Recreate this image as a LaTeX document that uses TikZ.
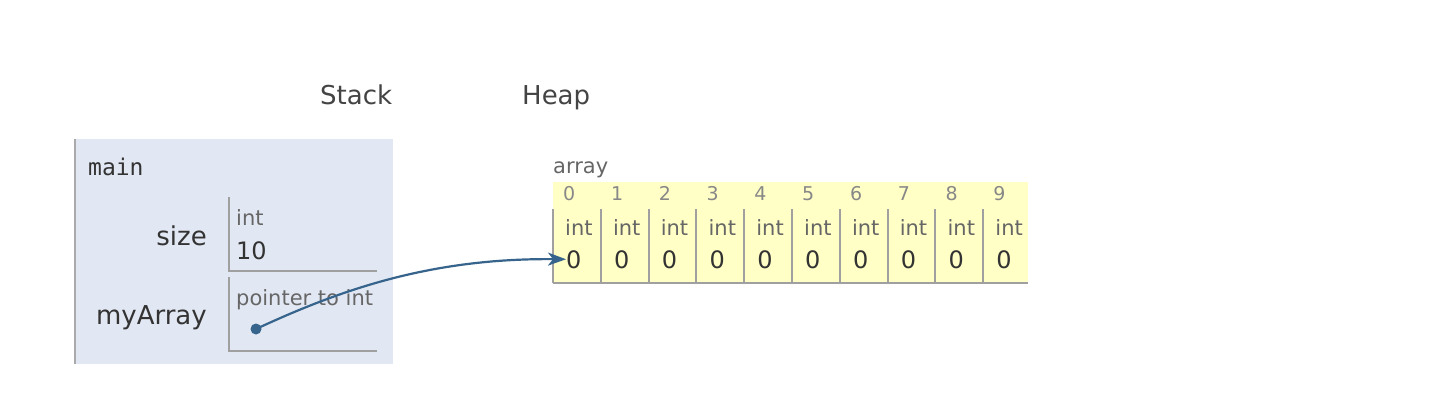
\documentclass[tikz,border=0pt]{standalone}
\usepackage{fontspec}
\setmainfont{DejaVu Sans}
\setmonofont{DejaVu Sans Mono}
\usetikzlibrary{arrows.meta}
\definecolor{stackbg}{RGB}{226,232,243}
\definecolor{framebd}{RGB}{170,170,170}
\definecolor{valbd}{RGB}{160,160,160}
\definecolor{heapbg}{RGB}{255,255,198}
\definecolor{txt}{RGB}{51,51,51}
\definecolor{hdr}{RGB}{68,68,68}
\definecolor{typ}{RGB}{102,102,102}
\definecolor{idxc}{RGB}{136,136,136}
\definecolor{ptrc}{RGB}{55,100,140}
\tikzset{
  lbl/.style={inner sep=0pt, anchor=base west, text=txt},
  hdrlbl/.style={inner sep=0pt, anchor=base west, text=hdr, font=\fontsize{26}{30}\selectfont},
  varname/.style={inner sep=0pt, anchor=base east, text=txt, font=\fontsize{26}{30}\selectfont},
  typelbl/.style={inner sep=0pt, anchor=base west, text=typ, font=\fontsize{21}{25}\selectfont},
  vallbl/.style={inner sep=0pt, anchor=base west, text=txt, font=\fontsize{24}{28}\selectfont},
  idxlbl/.style={inner sep=0pt, anchor=base west, text=idxc, font=\fontsize{19}{23}\selectfont},
  boxline/.style={draw=valbd, line width=2pt},
  ptrdot/.style={circle, fill=ptrc, inner sep=0pt, minimum size=11pt},
  ptrarrow/.style={draw=ptrc, line width=2.2pt}
}
\begin{document}
\begin{tikzpicture}[x=1pt,y=-1pt]
\useasboundingbox[fill=white] (0,0) rectangle (1432,420);
% headers
\node[hdrlbl] (stackhdr) at (320,104) {Stack};
\node[hdrlbl] (heaphdr) at (522,104) {Heap};
% stack frame
\fill[stackbg] (75,139) rectangle (393,364);
\draw[framebd, line width=2pt] (75,139) -- (75,364);
\node[lbl, font=\ttfamily\fontsize{23}{27}\selectfont] (mainlbl) at (88,175) {main};
\node[varname] (sizelbl) at (207,245) {size};
\node[varname] (arrlbl) at (207,324) {myArray};
\draw[boxline] (229,197) -- (229,271) -- (377,271);
\draw[boxline] (229,277) -- (229,351) -- (377,351);
\node[typelbl] (sizetype) at (236,225) {int};
\node[vallbl] (sizeval) at (236,259) {10};
\node[typelbl] (ptrtype) at (236,305) {pointer to int};
\node[ptrdot] (ptr) at (256,329) {};
% heap array
\node[typelbl] (arraylbl) at (553,173) {array};
\fill[heapbg] (553,182) rectangle (1028,283);
\foreach \i in {0,...,9}{
  \pgfmathsetmacro{\cx}{553+47.8*\i}
  \draw[boxline] (\cx,209) -- (\cx,283);
  \node[idxlbl] (idx\i) at (\cx+10,200) {\i};
  \node[typelbl] (ty\i) at (\cx+12,235) {int};
  \node[vallbl] (c\i) at (\cx+13,268) {0};
}
\draw[boxline] (553,283) -- (1028,283);
% pointer arrow
\draw[ptrarrow, arrows={-Stealth[length=18pt, width=13pt, inset=5pt]}] (ptr.center) .. controls (340,290) and (430,258) .. (c0.west);
\end{tikzpicture}
\end{document}
